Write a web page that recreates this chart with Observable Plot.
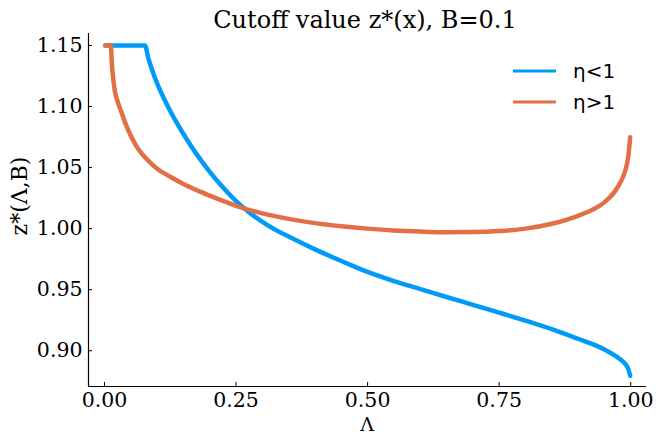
<!DOCTYPE html>
<html>
<head>
<meta charset="utf-8">
<script src="https://cdn.jsdelivr.net/npm/d3@7"></script>
<script src="https://cdn.jsdelivr.net/npm/@observablehq/plot@0.6"></script>
<style>
  html, body { margin: 0; padding: 0; background: #fff; }
  #chart { position: relative; width: 658px; height: 435px; }
</style>
</head>
<body>
<div id="chart"></div>
<script>
const blueX = [0.002, 0.077, 0.083, 0.09, 0.10, 0.12, 0.15, 0.175, 0.20, 0.225, 0.25, 0.275, 0.30, 0.325, 0.35, 0.40, 0.45, 0.50, 0.55, 0.60, 0.65, 0.70, 0.75, 0.80, 0.85, 0.90, 0.93, 0.95, 0.97, 0.98, 0.99, 0.995, 0.999];
const blueZ = [1.15, 1.15, 1.140, 1.1305, 1.119, 1.1005, 1.0775, 1.0610, 1.0465, 1.0338, 1.0225, 1.0133, 1.0055, 0.9990, 0.9935, 0.9830, 0.9735, 0.9645, 0.9570, 0.9505, 0.9440, 0.9376, 0.9312, 0.9246, 0.9176, 0.9098, 0.9050, 0.9010, 0.8960, 0.8930, 0.8890, 0.8855, 0.8795];
const orangeX = [0.001, 0.012, 0.014, 0.017, 0.02, 0.025, 0.03, 0.04, 0.05, 0.06, 0.07, 0.08, 0.09, 0.10, 0.125, 0.15, 0.175, 0.20, 0.225, 0.25, 0.30, 0.35, 0.40, 0.45, 0.50, 0.55, 0.60, 0.65, 0.70, 0.75, 0.80, 0.85, 0.90, 0.93, 0.95, 0.97, 0.98, 0.99, 0.995, 0.999];
const orangeZ = [1.15, 1.15, 1.135, 1.121, 1.112, 1.104, 1.098, 1.086, 1.076, 1.068, 1.0618, 1.0570, 1.0528, 1.049, 1.0425, 1.0365, 1.0315, 1.027, 1.0227, 1.0187, 1.0125, 1.0080, 1.0045, 1.0020, 1.0000, 0.9985, 0.9976, 0.9971, 0.9972, 0.9980, 1.0000, 1.0040, 1.0105, 1.0160, 1.0215, 1.0305, 1.0375, 1.0480, 1.0580, 1.0748];
const seriesNames = ["η<1", "η>1"];
const seriesColors = ["#009AFA", "#E36F47"];
const xTicks = [0, 0.25, 0.5, 0.75, 1.0];
const xTickLabels = ["0.00", "0.25", "0.50", "0.75", "1.00"];
const yTicks = [0.90, 0.95, 1.00, 1.05, 1.10, 1.15];
const yTickLabels = ["0.90", "0.95", "1.00", "1.05", "1.10", "1.15"];
const xDomain = [-0.0304, 1.03];
const yDomain = [0.8707, 1.1598];

const data = [
  ...blueX.map((x, i) => ({x, z: blueZ[i], s: seriesNames[0]})),
  ...orangeX.map((x, i) => ({x, z: orangeZ[i], s: seriesNames[1]}))
];

const serif = "DejaVu Serif";
const plot = Plot.plot({
  width: 658,
  height: 435,
  marginLeft: 88,
  marginRight: 12,
  marginTop: 33,
  marginBottom: 49,
  style: {fontFamily: serif, fontSize: "20.5px", color: "#000", background: "#fff"},
  x: {domain: xDomain},
  y: {domain: yDomain},
  color: {domain: seriesNames, range: seriesColors},
  marks: [
    Plot.axisX(xTicks, {tickSize: 0, tickPadding: 6, tickFormat: (d, i) => xTickLabels[i], fontSize: 20.5, label: null}),
    Plot.axisX(xTicks, {tickSize: -4, text: null, label: null}),
    Plot.axisY(yTicks, {tickSize: 0, tickPadding: 6, tickFormat: (d, i) => yTickLabels[i], fontSize: 20.5, label: null}),
    Plot.axisY(yTicks, {tickSize: -4, text: null, label: null}),
    Plot.ruleX([xDomain[0]], {stroke: "#000", strokeWidth: 1.2}),
    Plot.ruleY([yDomain[0]], {stroke: "#000", strokeWidth: 1.2}),
    Plot.line(data, {x: "x", y: "z", z: "s", stroke: "s", strokeWidth: 4.5, curve: "monotone-x"})
  ]
});
document.getElementById("chart").appendChild(plot);

const svg = d3.select(plot);
svg.append("text").attr("x", 365).attr("y", 27.5).attr("text-anchor", "middle")
  .attr("font-family", serif).attr("font-size", 24).text("Cutoff value z*(x), B=0.1");
svg.append("text").attr("x", 367).attr("y", 430.5).attr("text-anchor", "middle")
  .attr("font-family", serif).attr("font-size", 19).text("Λ");
svg.append("text").attr("transform", "translate(27,196) rotate(-90)").attr("text-anchor", "middle")
  .attr("font-family", serif).attr("font-size", 22).text("z*(Λ,B)");

const legendY = [71, 102];
seriesNames.forEach((name, i) => {
  svg.append("line").attr("x1", 513).attr("x2", 556).attr("y1", legendY[i]).attr("y2", legendY[i])
    .attr("stroke", seriesColors[i]).attr("stroke-width", 3);
  svg.append("text").attr("x", 573).attr("y", legendY[i]).attr("dy", "0.35em").attr("text-anchor", "start")
    .attr("font-family", "DejaVu Sans").attr("font-size", 20).text(name);
});
</script>
</body>
</html>
